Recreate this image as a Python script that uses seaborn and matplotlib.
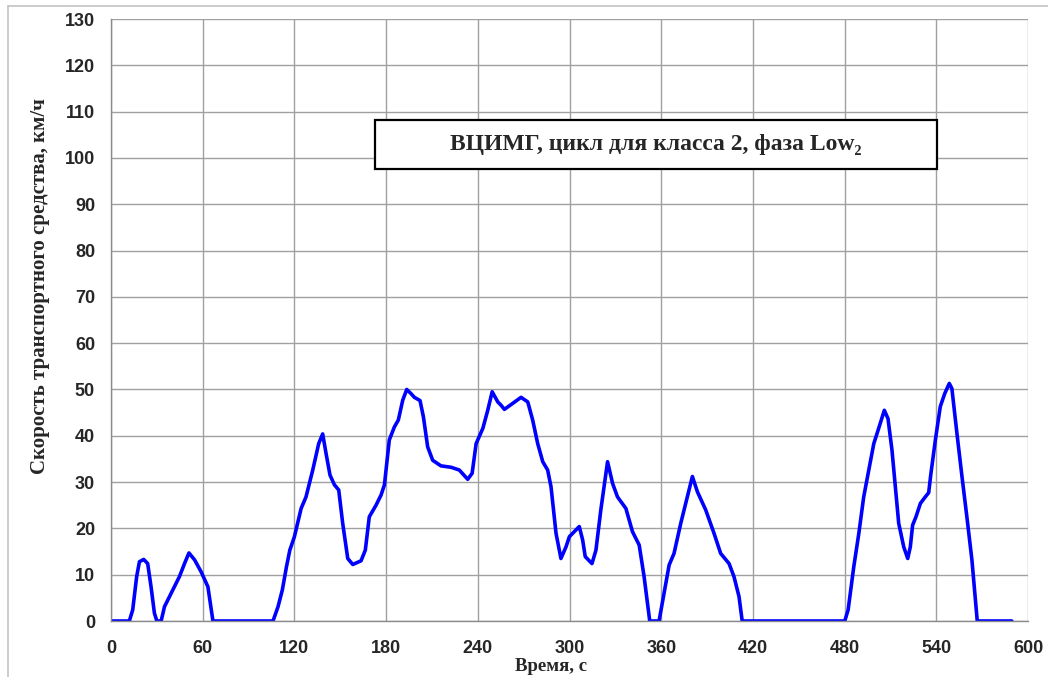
import numpy as np
import matplotlib
matplotlib.use("Agg")
import matplotlib.pyplot as plt
import matplotlib.patches as patches
from matplotlib.lines import Line2D
from matplotlib.ticker import MultipleLocator
import pandas as pd
import seaborn as sns

# WLTC class 2, Low phase
time_s = [0, 12, 14.2, 16.8, 18.6, 21.4, 24, 26.2, 28.4, 30, 32.8, 35, 38.3, 44.8, 48.1, 51, 54.7, 59, 63.4, 66.7,
          106, 109.3, 112.1, 114.8, 117, 120, 124.4, 127.6, 132, 135.9, 138.5, 140.7, 143.3, 146.2, 149, 151.6,
          154.9, 158.2, 163.6, 166.4, 169, 173.4, 176.7, 178.9, 182.1, 185.4, 188, 190.9, 193.5, 196.3, 198.5,
          202.2, 204.4, 207.2, 210.5, 215.9, 222.5, 227.9, 233.4, 236.3, 238.9, 243.3, 246.5, 249.4, 253.1, 255.2,
          257.4, 262.9, 268.3, 272.7, 275.9, 279.2, 282.5, 285.7, 287.9, 291.2, 294.4, 297.7, 299.9, 303.1, 306.4,
          308.6, 310.3, 314.7, 317.3, 320.5, 324.9, 328.2, 331.4, 336.9, 341.2, 345.6, 348.8, 352.5, 358.6, 361.9,
          365.2, 368.4, 372.8, 377.1, 380.4, 383.7, 389.1, 394.6, 398.9, 404.4, 407.6, 410.9, 413, 480.1, 482.3,
          486, 489.3, 492.5, 495.8, 499.1, 502.3, 506, 508.4, 511, 513.2, 515.4, 518.7, 521.3, 523, 524.5, 526.7,
          529.6, 532.8, 535, 536.5, 539.4, 542.6, 545.5, 548.5, 550.2, 553.5, 556.8, 560, 563.3, 566.8, 589.4]
speed_kmh = [0, 0, 2.4, 9.6, 12.8, 13.3, 12.4, 7.4, 1.7, 0, 0, 3.1, 5.3, 9.6, 12.4, 14.7, 13.2, 10.6, 7.4, 0,
             0, 3.1, 6.7, 11.7, 15.3, 18.2, 24.3, 26.8, 32.6, 38.3, 40.4, 36.2, 31.5, 29.4, 28.3, 21.1,
             13.5, 12.2, 13, 15.3, 22.5, 25, 27.2, 29.4, 39.1, 41.9, 43.4, 47.7, 50, 49.1, 48.3,
             47.6, 44.1, 37.6, 34.7, 33.5, 33.2, 32.6, 30.6, 31.9, 38.3, 41.6, 45.5, 49.5, 47.3, 46.6,
             45.7, 47, 48.3, 47.3, 43.4, 38.3, 34.4, 32.6, 29, 18.9, 13.5, 16, 18.2, 19.3, 20.4,
             17.5, 13.9, 12.4, 15.3, 24, 34.4, 29.7, 26.8, 24.3, 19.3, 16.4, 9.6, 0, 0, 6,
             12.1, 14.6, 21.1, 26.8, 31.2, 27.9, 24, 18.9, 14.6, 12.4, 9.6, 5.3, 0, 0, 2.4,
             11.7, 18.9, 26.8, 32.6, 38.3, 41.6, 45.5, 43.7, 36.9, 29, 21.1, 16, 13.5, 16, 20.7, 22.5,
             25.4, 26.8, 27.7, 31.9, 39.1, 46.3, 49.1, 51.3, 50.2, 40.5, 31.2, 22.5, 13.2, 0, 0]

title = "ВЦИМГ, цикл для класса 2, фаза Low₂"
xlabel = "Время, с"
ylabel = "Скорость транспортного средства, км/ч"

df = pd.DataFrame({"t": time_s, "v": speed_kmh})

sns.set_style("white")
plt.rcParams['font.family'] = ['Liberation Sans', 'DejaVu Sans']

fig = plt.figure(figsize=(10.48, 6.77), dpi=100)
ax = fig.add_axes([111 / 1048, 1 - 621 / 677, 917 / 1048, 602 / 677])

sns.lineplot(data=df, x="t", y="v", ax=ax, color="#0000ff", linewidth=2.6, sort=False,
             solid_joinstyle='round', solid_capstyle='round')

ax.set_xlim(0, 600)
ax.set_ylim(0, 130)
ax.xaxis.set_major_locator(MultipleLocator(60))
ax.xaxis.set_minor_locator(MultipleLocator(10))
ax.yaxis.set_major_locator(MultipleLocator(10))
ax.yaxis.set_minor_locator(MultipleLocator(2))
ax.grid(True, which='major', color='#a0a0a0', linewidth=1.0)
ax.set_axisbelow(True)

for s in ['top', 'right']:
    ax.spines[s].set_visible(False)
for s in ['left', 'bottom']:
    ax.spines[s].set_color('#8a8a8a')
    ax.spines[s].set_linewidth(1.0)

ax.tick_params(which='major', direction='inout', length=7, width=1, color='#8a8a8a')
ax.tick_params(which='minor', direction='inout', length=5, width=0.8, color='#8a8a8a')
ax.tick_params(axis='y', which='major', pad=8)
ax.tick_params(axis='x', which='major', pad=10)
for lab in ax.get_xticklabels() + ax.get_yticklabels():
    lab.set_fontweight('bold')
    lab.set_fontsize(13)

serif = ['Liberation Serif', 'DejaVu Serif']
ax.set_xlabel(xlabel, fontsize=13.5, fontweight='bold', family=serif)
ax.set_ylabel(ylabel, fontsize=15, fontweight='bold', family=serif)
ax.xaxis.set_label_coords(0.48, -0.061)
ax.yaxis.set_label_coords(-0.066, 0.556)

# title box
box = patches.Rectangle((264 / 917, (621 - 169) / 602), 562 / 917, 49 / 602, transform=ax.transAxes,
                        facecolor='white', edgecolor='black', linewidth=1.6, zorder=5)
ax.add_patch(box)
ax.text((264 + 281) / 917, (621 - 144.5) / 602, title, transform=ax.transAxes, ha='center', va='center',
        fontsize=17, fontweight='bold', family=serif, zorder=6)

# chart frame (cropped)
fig.add_artist(Line2D([8 / 1048, 1], [1 - 6 / 677, 1 - 6 / 677], transform=fig.transFigure, color='#c4c4c4', lw=1.2))
fig.add_artist(Line2D([8 / 1048, 8 / 1048], [0, 1 - 6 / 677], transform=fig.transFigure, color='#c4c4c4', lw=1.2))

fig.savefig("out.png", dpi=100)
